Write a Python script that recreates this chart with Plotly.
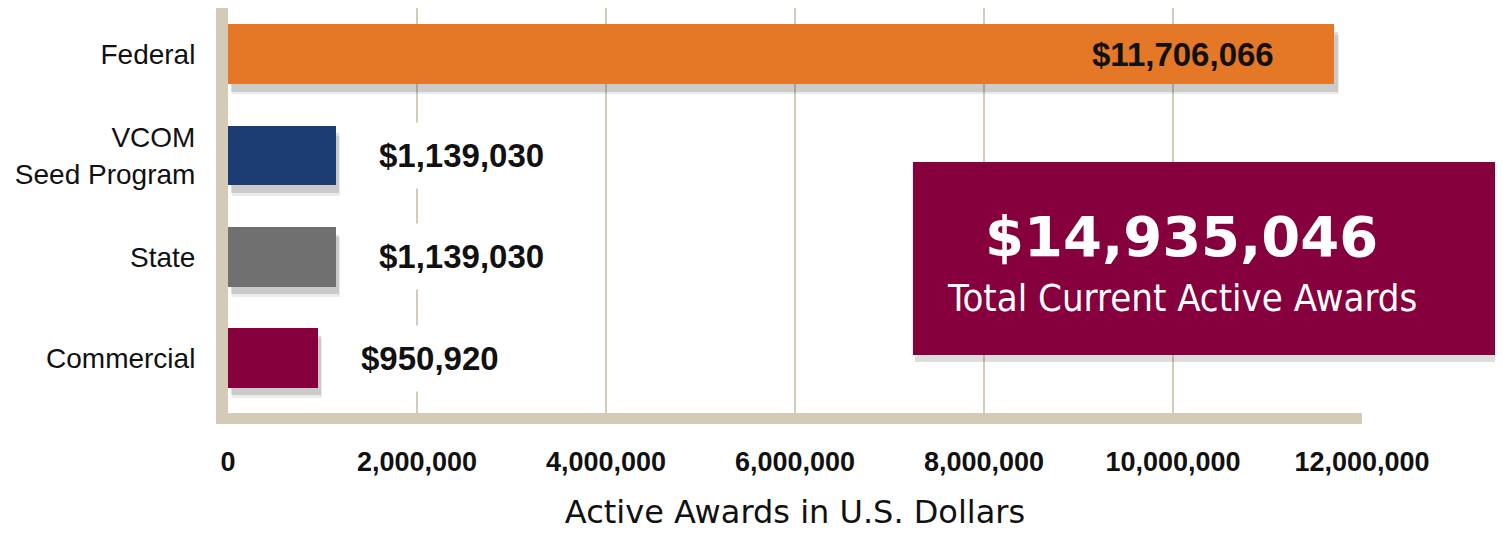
import plotly.graph_objects as go

# ---- data ----
categories = ["Commercial", "State", "VCOM<br>Seed Program", "Federal"]
values = [950920, 1139030, 1139030, 11706066]
value_labels = ["$950,920", "$1,139,030", "$1,139,030", "$11,706,066"]
bar_colors = ["#85003D", "#707070", "#1E3C74", "#E47827"]
tick_vals = [0, 2000000, 4000000, 6000000, 8000000, 10000000, 12000000]
tick_text = ["0", "2,000,000", "4,000,000", "6,000,000", "8,000,000", "10,000,000", "12,000,000"]
total_value = "$14,935,046"
total_caption = "Total Current Active Awards"
x_title = "Active Awards in U.S. Dollars"

BEIGE = "#D3CAB7"
BAR_W = 0.59
SHADOW_X = 60000

fig = go.Figure()

# soft drop shadows (two layers to imitate blur)
for dx, dy, op in [(SHADOW_X * 1.3, 0.10, 0.10), (SHADOW_X, 0.075, 0.18)]:
    fig.add_trace(go.Bar(
        y=categories, x=values, base=[dx * 0.6] * len(values),
        orientation="h", width=BAR_W, offset=-BAR_W / 2 - dy,
        marker=dict(color=f"rgba(60,60,60,{op})", line=dict(width=0)),
        hoverinfo="skip", showlegend=False,
    ))

fig.add_trace(go.Bar(
    y=categories, x=values, orientation="h",
    width=BAR_W, offset=-BAR_W / 2,
    marker=dict(color=bar_colors, line=dict(width=0)),
    showlegend=False,
))

# value labels
for cat, v, lab in zip(categories, values, value_labels):
    if v > 6000000:
        fig.add_annotation(x=v, y=cat, text=lab, showarrow=False,
                           xanchor="right", xshift=-58,
                           font=dict(family="Liberation Sans, Arial, sans-serif",
                                     size=33, color="#111111", weight="bold"))
    else:
        fig.add_annotation(x=v, y=cat, text=lab, showarrow=False,
                           xanchor="left", xshift=28,
                           bgcolor="white", borderpad=14,
                           font=dict(family="Liberation Sans, Arial, sans-serif",
                                     size=33, color="#111111", weight="bold"))

# total box (shadow + box)
fig.add_shape(type="rect", xref="paper", yref="paper",
              x0=0.606, x1=1.14, y0=0.126, y1=0.61,
              fillcolor="rgba(60,60,60,0.18)", line=dict(width=0), layer="above")
fig.add_shape(type="rect", xref="paper", yref="paper",
              x0=0.604, x1=1.14, y0=0.143, y1=0.620,
              fillcolor="#85003D", line=dict(width=0), layer="above")
fig.add_annotation(xref="paper", yref="paper", x=0.841, y=0.437,
                   text=total_value, showarrow=False, xanchor="center", yanchor="middle",
                   font=dict(family="DejaVu Sans, Verdana, sans-serif", size=56,
                             color="white", weight="bold"))
fig.add_annotation(xref="paper", yref="paper", x=0.841, y=0.283,
                   text=total_caption, showarrow=False, xanchor="center", yanchor="middle",
                   font=dict(family="Liberation Sans Narrow, DejaVu Sans Condensed, sans-serif",
                             size=38, color="white"))

fig.update_layout(
    width=1503, height=534,
    margin=dict(l=220, r=149, t=0, b=129),
    paper_bgcolor="white", plot_bgcolor="white",
    barmode="overlay",
    bargap=0,
    xaxis=dict(
        range=[0, 12000000],
        tickvals=tick_vals, ticktext=tick_text,
        showgrid=True, gridcolor=BEIGE, gridwidth=2,
        zeroline=False,
        showline=True, linecolor=BEIGE, linewidth=11,
        ticks="", ticklabelstandoff=15,
        tickfont=dict(family="Liberation Sans, Arial, sans-serif", size=27,
                      color="#111111", weight="bold"),
        title=dict(text=x_title, standoff=29,
                   font=dict(family="DejaVu Sans, Verdana, sans-serif", size=32,
                             color="#111111")),
        fixedrange=True,
    ),
    yaxis=dict(
        type="category", categoryorder="array", categoryarray=categories,
        range=[-0.543, 3.457],
        showgrid=False, zeroline=False,
        showline=True, linecolor=BEIGE, linewidth=12,
        ticks="", ticklabelstandoff=15,
        tickfont=dict(family="Liberation Sans, Arial, sans-serif", size=28,
                      color="#111111"),
        fixedrange=True,
    ),
)

fig.write_html("out.html")
